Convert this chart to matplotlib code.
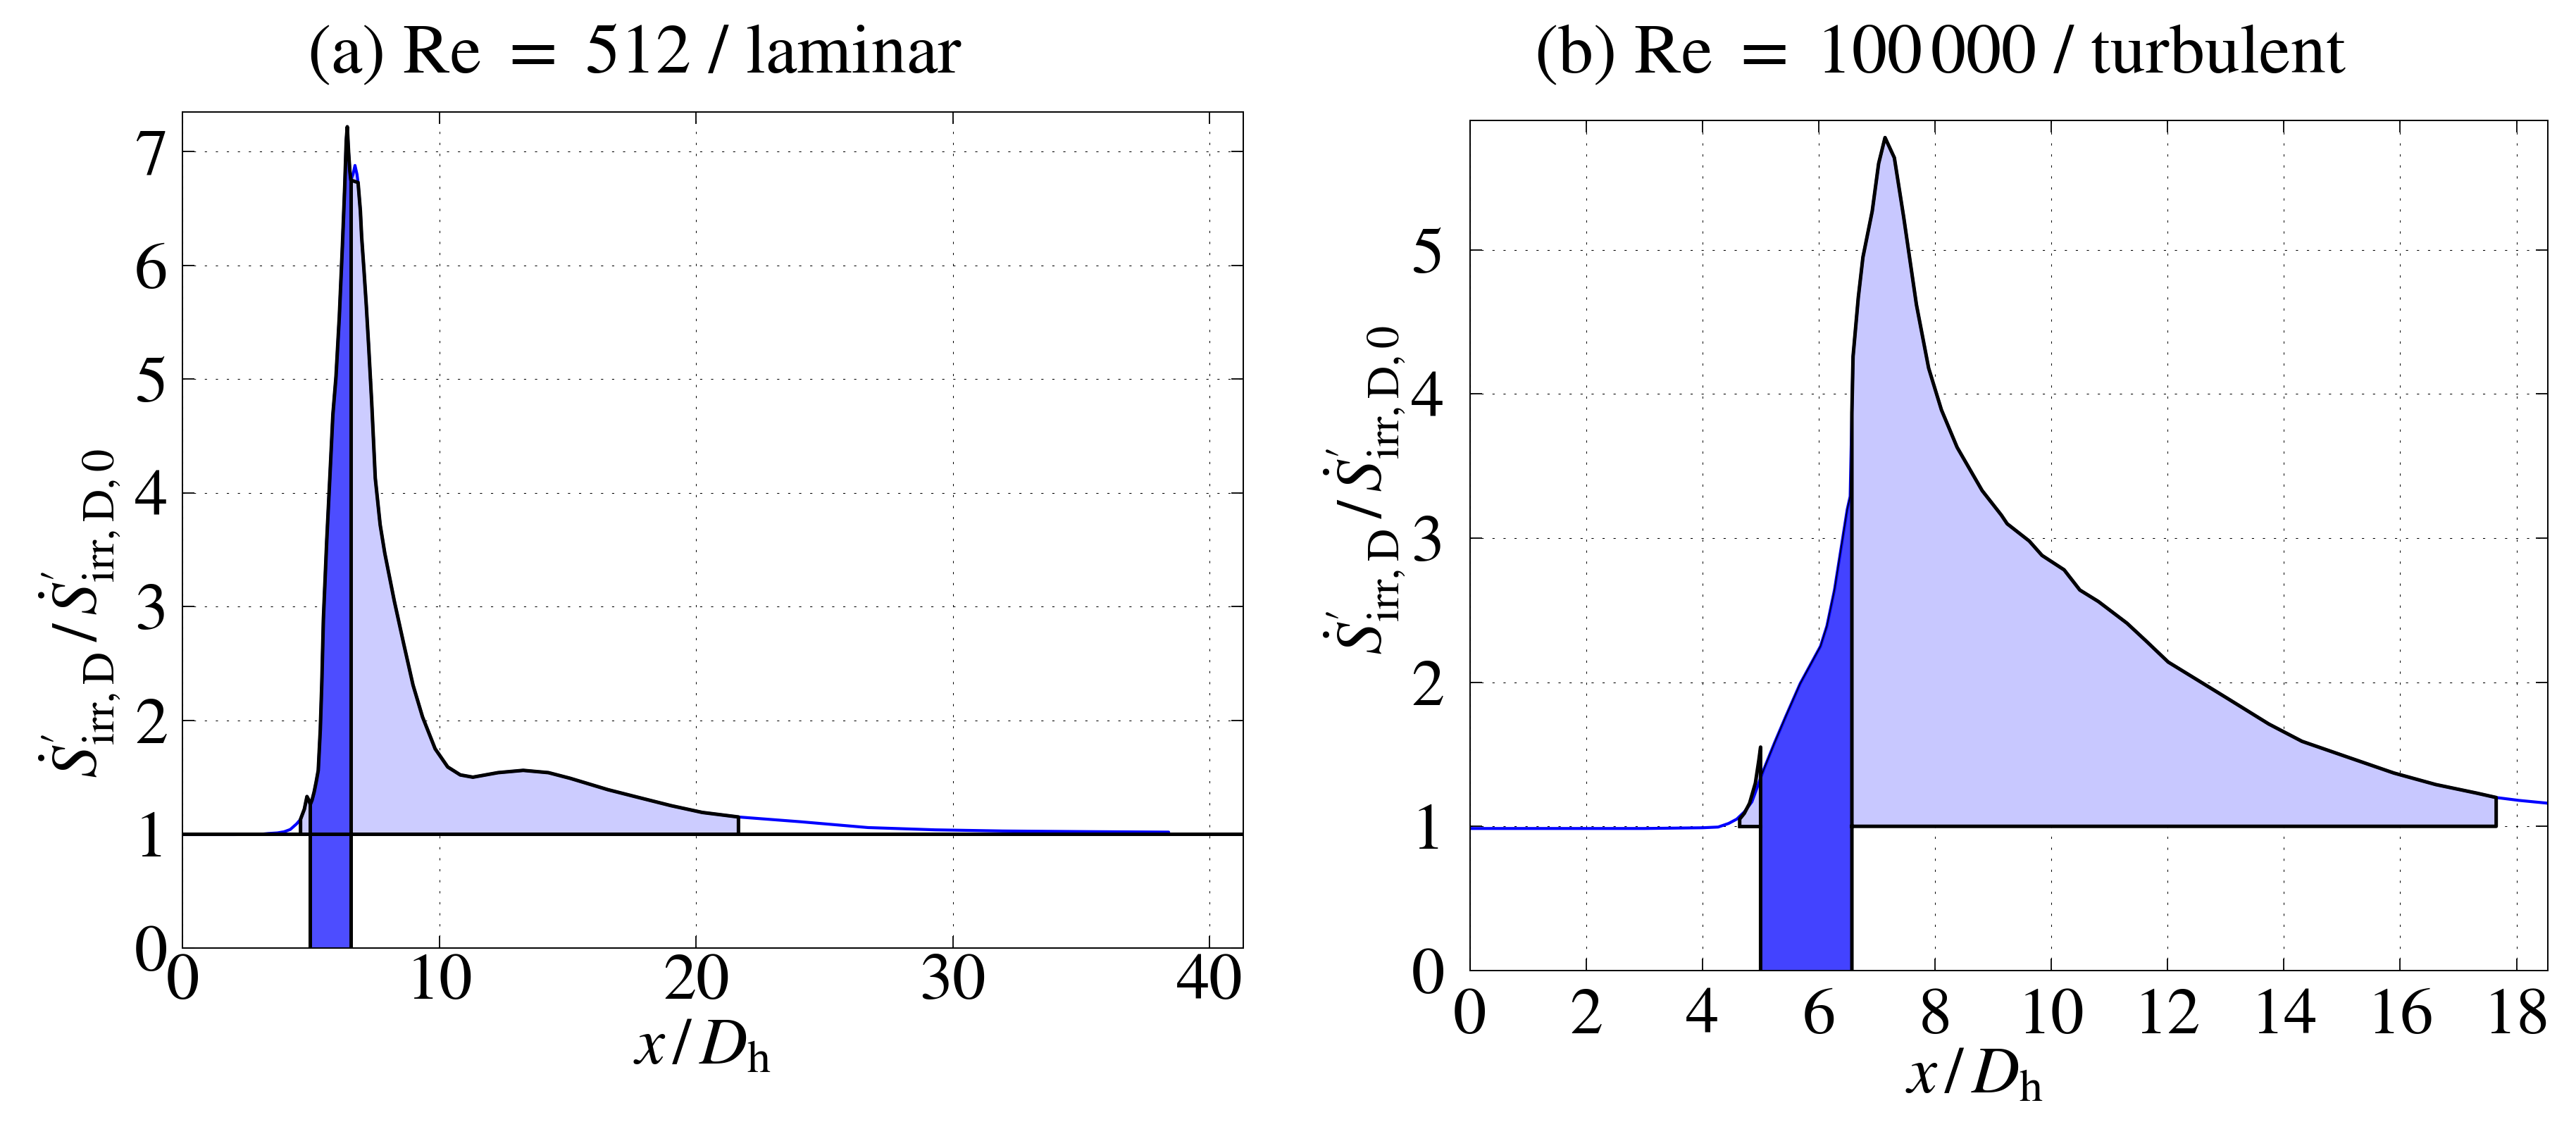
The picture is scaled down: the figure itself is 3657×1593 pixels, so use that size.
import numpy as np
import matplotlib
matplotlib.use("Agg")
import matplotlib.pyplot as plt

plt.rcParams['font.family'] = ['STIXGeneral', 'DejaVu Sans']
plt.rcParams['mathtext.fontset'] = 'stix'

# ---------------- data: (a) Re = 512 / laminar ----------------
xa = [0, 1, 2, 3, 3.35, 3.7, 3.96, 4.2, 4.45, 4.6, 4.75, 4.85, 4.92, 4.98,
      5.05, 5.13, 5.21, 5.29, 5.37, 5.43, 5.49, 5.62, 5.74, 5.86, 5.98, 6.11,
      6.23, 6.32, 6.38, 6.42, 6.47, 6.52, 6.56, 6.64, 6.72, 6.80, 6.84, 6.93,
      6.98, 7.07, 7.16, 7.25, 7.37, 7.51, 7.70, 7.88, 8.25, 8.62, 8.98, 9.35,
      9.84, 10.33, 10.82, 11.31, 12.29, 13.27, 14.25, 15.10, 16.57, 17.79,
      19.02, 20.24, 21.65, 24.07, 26.69, 29.31, 31.94, 35.43, 38.4]
ya = [0.995, 0.995, 0.995, 0.997, 1.005, 1.01, 1.02, 1.04, 1.09, 1.13, 1.22,
      1.33, 1.30, 1.26, 1.30, 1.37, 1.46, 1.56, 1.92, 2.34, 2.89, 3.58, 4.13,
      4.69, 5.02, 5.55, 6.17, 6.69, 7.10, 7.22, 7.0, 6.83, 6.75, 6.80, 6.88,
      6.80, 6.73, 6.48, 6.25, 5.96, 5.65, 5.30, 4.80, 4.13, 3.72, 3.47, 3.05,
      2.67, 2.31, 2.03, 1.75, 1.59, 1.52, 1.50, 1.54, 1.56, 1.54, 1.49, 1.39,
      1.32, 1.25, 1.19, 1.15, 1.108, 1.057, 1.037, 1.027, 1.021, 1.017]
a_light_lo, a_dark_lo, a_dark_hi, a_cap_hi, a_light_hi = 4.6, 4.97, 6.56, 6.84, 21.65
a_base = 1.0

# ---------------- data: (b) Re = 100 000 / turbulent ----------------
xb = [0, 1, 2, 3, 4, 4.27, 4.45, 4.59, 4.72, 4.85, 4.95, 5.05, 5.24, 5.43,
      5.68, 6.03, 6.14, 6.27, 6.38, 6.49, 6.54, 6.59, 6.68, 6.76, 6.92, 7.03,
      7.14, 7.30, 7.46, 7.68, 7.89, 8.11, 8.38, 8.81, 9.14, 9.24, 9.62, 9.84,
      10.22, 10.49, 10.81, 11.30, 11.62, 12.01, 13.02, 13.74, 14.31, 15.17,
      15.89, 16.61, 17.32, 17.65, 18.04, 18.55]
yb = [0.985, 0.985, 0.985, 0.985, 0.99, 0.995, 1.02, 1.05, 1.10, 1.17, 1.28,
      1.39, 1.58, 1.76, 1.99, 2.25, 2.39, 2.64, 2.92, 3.20, 3.29, 4.26, 4.67,
      4.95, 5.27, 5.60, 5.78, 5.64, 5.23, 4.62, 4.18, 3.89, 3.63, 3.33, 3.16,
      3.10, 2.98, 2.88, 2.78, 2.64, 2.56, 2.41, 2.29, 2.14, 1.89, 1.71, 1.59,
      1.47, 1.37, 1.29, 1.23, 1.20, 1.18, 1.16]
spike_x = [4.64, 4.72, 4.81, 4.91, 4.97, 5.0]
spike_y = [1.05, 1.09, 1.16, 1.30, 1.46, 1.55]
b_light_lo, b_dark_lo, b_dark_hi, b_light_hi = 4.64, 5.0, 6.57, 17.65
b_base = 1.0

titles = [r"(a) Re $=$ 512 / laminar", r"(b) Re $=$ 100$\,$000 / turbulent"]
ylabel = (r"$\dot{S}^{\prime}_{\mathrm{irr,D}}\,/\,"
          r"\dot{S}^{\prime}_{\mathrm{irr,D,0}}$")
xlabel = r"$x\,/\,D_{\mathrm{h}}$"
xticks_a = [0, 10, 20, 30, 40]
yticks_a = [0, 1, 2, 3, 4, 5, 6, 7]
xticks_b = list(range(0, 19, 2))
yticks_b = [0, 1, 2, 3, 4, 5]

BLUE = '#0000FF'
DARK_A, LIGHT_A = '#4D4DFF', '#CCCCFF'
DARK_B, LIGHT_B = '#4343FF', '#C8C8FF'
LW_K, LW_B = 3.6, 3.0
FS_TICK = 68
FS_XLABEL = 68
FS_YLABEL = 66
FS_TITLE = 72


def seg(x, y, a, b, skip=None):
    x = np.asarray(x, float)
    y = np.asarray(y, float)
    m = (x > a) & (x < b)
    if skip is not None:
        m &= ~((x > skip[0]) & (x < skip[1]))
    xs = np.concatenate([[a], x[m], [b]])
    ys = np.concatenate([[np.interp(a, x, y)], y[m], [np.interp(b, x, y)]])
    return xs, ys


def style(ax, xlim, ylim, xt, yt, xpad, ypad):
    ax.set_xlim(*xlim)
    ax.set_ylim(*ylim)
    ax.set_xticks(xt)
    ax.set_yticks(yt)
    ax.set_axisbelow(True)
    ax.grid(True, color='k', linestyle=(0, (3, 12)), linewidth=0.75)
    ax.tick_params(direction='in', length=12, width=1.3, top=True, right=True,
                   labelsize=FS_TICK)
    ax.tick_params(axis='x', pad=xpad)
    ax.tick_params(axis='y', pad=ypad)
    for s in ax.spines.values():
        s.set_linewidth(1.4)


fig = plt.figure(figsize=(36.57, 15.93), dpi=100)

# ---------------- panel (a) ----------------
ax1 = fig.add_axes([0.0708, 0.1553, 0.4118, 0.7449])
lx, ly = seg(xa, ya, a_light_lo, a_light_hi)
ax1.fill_between(lx, a_base, ly, color=LIGHT_A, lw=0, zorder=1)
dx, dy = seg(xa, ya, a_dark_lo, a_dark_hi)
ax1.fill_between(dx, 0, dy, color=DARK_A, lw=0, zorder=1.1)
ax1.plot(xa, ya, color=BLUE, lw=LW_B, zorder=2, solid_capstyle='round')
ax1.axhline(a_base, color='k', lw=LW_K, zorder=3)
kx, ky = seg(xa, ya, a_light_lo, a_light_hi, skip=(a_dark_hi, a_cap_hi))
ax1.plot(np.concatenate([[a_light_lo], kx, [a_light_hi]]),
         np.concatenate([[a_base], ky, [a_base]]), color='k', lw=LW_K,
         zorder=3, solid_joinstyle='round')
for xv in (a_dark_lo, a_dark_hi):
    ax1.plot([xv, xv], [0, np.interp(xv, xa, ya)], color='k', lw=LW_K, zorder=3)
style(ax1, (0, 41.3), (0, 7.35), xticks_a, yticks_a, 6, 15)
ax1.set_xlabel(xlabel, fontsize=FS_XLABEL, va='center')
ax1.xaxis.set_label_coords(0.49, -0.12)
ax1.set_ylabel(ylabel, fontsize=FS_YLABEL, va='center')
ax1.yaxis.set_label_coords(-0.097, 0.40)

# ---------------- panel (b) ----------------
ax2 = fig.add_axes([0.5706, 0.1351, 0.4185, 0.7577])
ax2.fill_between(spike_x, b_base, spike_y, color=LIGHT_B, lw=0, zorder=1)
lx, ly = seg(xb, yb, b_dark_hi, b_light_hi)
ax2.fill_between(lx, b_base, ly, color=LIGHT_B, lw=0, zorder=1)
dx, dy = seg(xb, yb, b_dark_lo, b_dark_hi)
ax2.fill_between(dx, 0, dy, color=DARK_B, lw=0, zorder=1.1)
ax2.plot(xb, yb, color=BLUE, lw=LW_B, zorder=2, solid_capstyle='round')
ax2.plot(dx, dy, color='k', lw=1.1, zorder=3)
# spike outline
ax2.plot(np.concatenate([[spike_x[0]], spike_x, [spike_x[-1]]]),
         np.concatenate([[b_base], spike_y, [0]]), color='k', lw=LW_K, zorder=3)
ax2.plot([b_light_lo, b_dark_lo], [b_base, b_base], color='k', lw=LW_K, zorder=3)
# main light region outline
ax2.plot(np.concatenate([[b_dark_hi], lx, [b_light_hi, b_dark_hi]]),
         np.concatenate([[0], ly, [b_base, b_base]]), color='k', lw=LW_K,
         zorder=3, solid_joinstyle='round')
style(ax2, (0, 18.54), (0, 5.9), xticks_b, yticks_b, 18, 26)
ax2.set_xlabel(xlabel, fontsize=FS_XLABEL, va='center')
ax2.xaxis.set_label_coords(0.468, -0.126)
ax2.set_ylabel(ylabel, fontsize=FS_YLABEL, va='center')
ax2.yaxis.set_label_coords(-0.098, 0.565)

fig.text(0.2464, 0.935, titles[0], fontsize=FS_TITLE, ha='center', va='baseline')
fig.text(0.7533, 0.935, titles[1], fontsize=FS_TITLE, ha='center', va='baseline')

fig.savefig('out.png', dpi=100)
